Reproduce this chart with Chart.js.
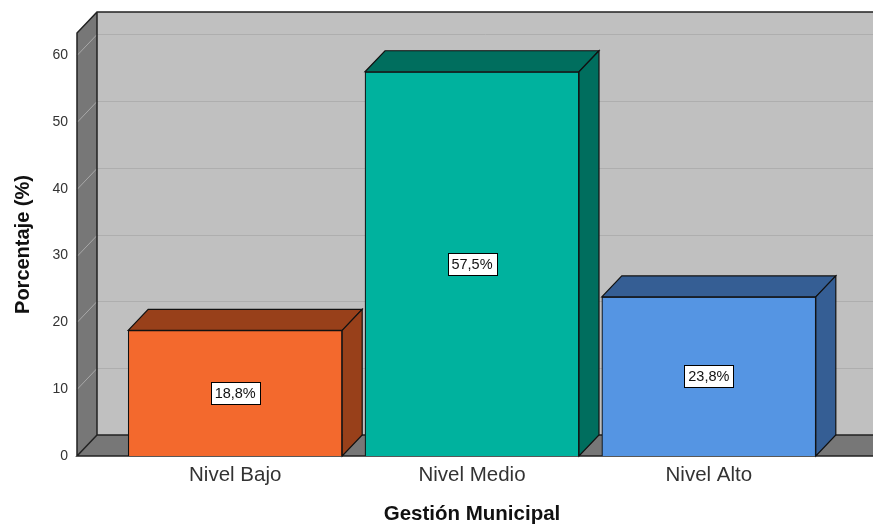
<!DOCTYPE html>
<html>
<head>
<meta charset="utf-8">
<script src="https://cdn.jsdelivr.net/npm/chart.js@4"></script>
<style>
  html, body { margin: 0; padding: 0; background: #fff; }
  #wrap { width: 873px; height: 525px; }
</style>
</head>
<body>
<div id="wrap"><canvas id="chart" width="873" height="525"></canvas></div>
<script>
// data
const categories = ['Nivel Bajo', 'Nivel Medio', 'Nivel Alto'];
const percentages = [18.8, 57.5, 23.8];
const yTicks = [0, 10, 20, 30, 40, 50, 60];
const frontColors = ['#F3692D', '#00B29E', '#5595E3'];
const sideColors = ['#98401A', '#006E5E', '#355E94'];

const FONT = '"Liberation Sans", Arial, sans-serif';
const DX = 20, DY = 21; // depth of the fake 3D

// walls, floor and grid, drawn behind the bars
const walls = {
    id: 'walls',
    beforeDatasetsDraw(chart) {
        const { ctx, chartArea: a, scales: { y } } = chart;
        const right = a.right + 40;
        ctx.save();
        // back wall
        ctx.fillStyle = '#C0C0C0';
        ctx.fillRect(a.left + DX, a.top - DY, right - a.left, a.bottom - a.top);
        // left wall
        ctx.fillStyle = '#777777';
        ctx.beginPath();
        ctx.moveTo(a.left, a.top);
        ctx.lineTo(a.left + DX, a.top - DY);
        ctx.lineTo(a.left + DX, a.bottom - DY);
        ctx.lineTo(a.left, a.bottom);
        ctx.closePath();
        ctx.fill();
        // floor
        ctx.beginPath();
        ctx.moveTo(a.left, a.bottom);
        ctx.lineTo(a.left + DX, a.bottom - DY);
        ctx.lineTo(right + DX, a.bottom - DY);
        ctx.lineTo(right, a.bottom);
        ctx.closePath();
        ctx.fill();

        // grid lines
        ctx.lineWidth = 1;
        yTicks.forEach(t => {
            if (t === 0) return;
            const py = Math.round(y.getPixelForValue(t)) + 0.5;
            ctx.strokeStyle = '#AEAEAE';
            ctx.beginPath();
            ctx.moveTo(a.left + DX, py - DY);
            ctx.lineTo(right + DX, py - DY);
            ctx.stroke();
            ctx.strokeStyle = '#A8A8A8';
            ctx.beginPath();
            ctx.moveTo(a.left, py);
            ctx.lineTo(a.left + DX, py - DY);
            ctx.stroke();
        });

        // outlines
        ctx.strokeStyle = '#222';
        ctx.lineWidth = 1.5;
        ctx.beginPath();
        ctx.moveTo(a.left, a.bottom);
        ctx.lineTo(a.left, a.top);
        ctx.lineTo(a.left + DX, a.top - DY);
        ctx.lineTo(right + DX, a.top - DY);
        ctx.moveTo(a.left + DX, a.top - DY);
        ctx.lineTo(a.left + DX, a.bottom - DY);
        ctx.lineTo(right + DX, a.bottom - DY);
        ctx.moveTo(a.left + DX, a.bottom - DY);
        ctx.lineTo(a.left, a.bottom);
        ctx.lineTo(right, a.bottom);
        ctx.lineTo(right + DX, a.bottom - DY);
        ctx.stroke();
        ctx.restore();
    }
};

// top and side faces of the bars, then the value boxes
const bars3d = {
    id: 'bars3d',
    afterDatasetsDraw(chart) {
        const { ctx } = chart;
        const meta = chart.getDatasetMeta(0);
        ctx.save();
        meta.data.forEach((bar, i) => {
            const { x, y, base, width } = bar.getProps(['x', 'y', 'base', 'width'], true);
            const l = x - width / 2, r = x + width / 2;
            ctx.lineWidth = 1.2;
            ctx.strokeStyle = '#111';
            ctx.fillStyle = sideColors[i];
            // top
            ctx.beginPath();
            ctx.moveTo(l, y);
            ctx.lineTo(l + DX, y - DY);
            ctx.lineTo(r + DX, y - DY);
            ctx.lineTo(r, y);
            ctx.closePath();
            ctx.fill();
            ctx.stroke();
            // side
            ctx.beginPath();
            ctx.moveTo(r, y);
            ctx.lineTo(r + DX, y - DY);
            ctx.lineTo(r + DX, base - DY);
            ctx.lineTo(r, base);
            ctx.closePath();
            ctx.fill();
            ctx.stroke();

            // value label
            const txt = percentages[i].toFixed(1).replace('.', ',') + '%';
            ctx.font = '14.5px ' + FONT;
            const w = Math.round(ctx.measureText(txt).width + 8);
            const h = 22;
            const cy = (y + base) / 2;
            const bx = Math.round(x - w / 2) + 0.5, by = Math.round(cy - h / 2) + 0.5;
            ctx.fillStyle = '#fff';
            ctx.fillRect(bx, by, w, h);
            ctx.lineWidth = 1;
            ctx.strokeStyle = '#000';
            ctx.strokeRect(bx, by, w, h);
            ctx.fillStyle = '#111';
            ctx.textAlign = 'center';
            ctx.textBaseline = 'middle';
            ctx.fillText(txt, x, cy + 1);
        });
        ctx.restore();
    }
};

new Chart(document.getElementById('chart'), {
    type: 'bar',
    data: {
        datasets: [{
            data: percentages.map((v, i) => ({ x: i, y: v })),
            backgroundColor: frontColors,
            borderColor: '#111',
            borderWidth: 1.2,
            barThickness: 214
        }]
    },
    plugins: [walls, bars3d],
    options: {
        responsive: false,
        animation: false,
        layout: { padding: { top: 33, right: 6, left: 0, bottom: 0 } },
        plugins: {
            legend: { display: false },
            tooltip: { enabled: false }
        },
        scales: {
            x: {
                type: 'linear',
                offset: false,
                min: -0.668,
                max: 2.668,
                grid: { display: false, drawTicks: false },
                border: { display: false },
                afterFit(scale) { scale.height = 69; },
                afterBuildTicks(scale) {
                    scale.ticks = categories.map((c, i) => ({ value: i }));
                },
                ticks: {
                    padding: 7,
                    color: '#333',
                    maxRotation: 0,
                    font: { family: FONT, size: 20.5 },
                    callback: (v) => categories[v]
                },
                title: {
                    display: true,
                    text: 'Gestión Municipal',
                    color: '#111',
                    padding: { top: 0, bottom: -2 },
                    font: { family: FONT, size: 20.5, weight: 'bold' }
                }
            },
            y: {
                min: 0,
                max: 63.3,
                grid: { display: false, drawTicks: false },
                border: { display: false },
                afterFit(scale) { scale.width = 77; },
                afterBuildTicks(scale) {
                    scale.ticks = yTicks.map(v => ({ value: v }));
                },
                ticks: {
                    padding: 9,
                    color: '#333',
                    font: { family: FONT, size: 14 }
                },
                title: {
                    display: true,
                    text: 'Porcentaje (%)',
                    color: '#111',
                    padding: { top: 11, bottom: 0 },
                    font: { family: FONT, size: 20, weight: 'bold' }
                }
            }
        }
    }
});
</script>
</body>
</html>
